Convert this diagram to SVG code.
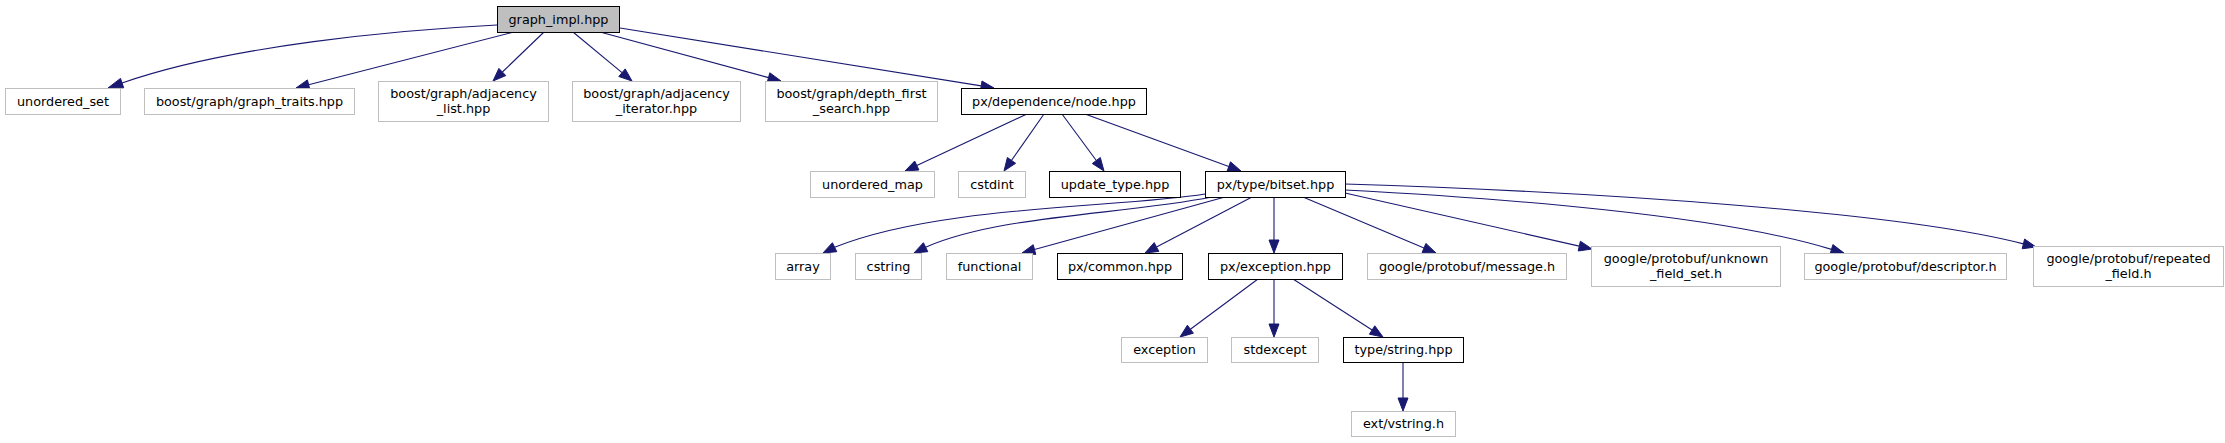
<svg xmlns="http://www.w3.org/2000/svg" width="2225" height="443" viewBox="0 0 2225 443">
<style>
.n rect{fill:#ffffff;stroke:#000000;stroke-width:1}
.g rect{fill:#ffffff;stroke:#bfbfbf;stroke-width:1}
.r rect{fill:#bfbfbf;stroke:#000000;stroke-width:1}
text{font-family:"DejaVu Sans","Liberation Sans",sans-serif;font-size:12.8px;fill:#000000;text-anchor:middle}
.e path{fill:none;stroke:#191970;stroke-width:1.1}
.e polygon{fill:#191970;stroke:#191970;stroke-width:1}
</style>
<rect x="0" y="0" width="2225" height="443" fill="#ffffff"/>
<g id="edges" class="e">
<path d="M497,25 C400,30 230,45 122,83"/><polygon points="120.5,78.4 108,88 123.7,87.8"/>
<path d="M514,32 L308.6,84.8"/><polygon points="307.4,79.9 296,88 309.9,89.6"/>
<path d="M544,32 L502.4,72"/><polygon points="498.9,68.4 493,81 505.8,75.6"/>
<path d="M573,32 L622,72.7"/><polygon points="618.8,76.5 632,81 625.2,68.9"/>
<path d="M600,32 L768.5,77.6"/><polygon points="767.2,82.4 781,81 769.8,72.8"/>
<path d="M620,28 L981.2,85.9"/><polygon points="980.4,90.9 994,88 982,81"/>
<path d="M1027,114 L916.8,165.5"/><polygon points="914.7,161 905,171 918.9,170"/>
<path d="M1044,114 L1011.5,160.4"/><polygon points="1007.4,157.5 1004,171 1015.6,163.3"/>
<path d="M1062,114 L1096.3,160.5"/><polygon points="1092.3,163.5 1104,171 1100.3,157.5"/>
<path d="M1085,114 L1228.8,166.5"/><polygon points="1227.1,171.2 1241,171 1230.5,161.8"/>
<path d="M1205,194 C1120,208 940,205 834.6,247.2"/><polygon points="832.4,242.7 823,253 836.8,251.7"/>
<path d="M1212,197 C1120,215 1000,215 925.6,247.2"/><polygon points="923.4,242.7 914,253 927.8,251.7"/>
<path d="M1225,197 L1034.5,249.5"/><polygon points="1033.2,244.7 1022,253 1035.8,254.4"/>
<path d="M1252,197 L1156.5,247"/><polygon points="1154.2,242.6 1145,253 1158.8,251.4"/>
<path d="M1274,197 L1274,240"/><polygon points="1269,240 1274,253 1279,240"/>
<path d="M1303,197 L1424,248"/><polygon points="1422.1,252.6 1436,253 1425.9,243.4"/>
<path d="M1345,193 L1579.3,246.1"/><polygon points="1578.2,251 1592,249 1580.4,241.2"/>
<path d="M1345,190 C1500,198 1720,215 1831.5,249.4"/><polygon points="1830.1,254.2 1844,253 1832.9,244.6"/>
<path d="M1345,184 C1600,192 1900,212 2023.4,243.9"/><polygon points="2022.2,248.75 2036,247 2024.6,239"/>
<path d="M1258,279 L1190.4,329.2"/><polygon points="1187.4,325.2 1180,337 1193.4,333.2"/>
<path d="M1274,279 L1274,324"/><polygon points="1269,324 1274,337 1279,324"/>
<path d="M1293,279 L1372.1,330"/><polygon points="1369.4,334.2 1383,337 1374.8,325.8"/>
<path d="M1403,362 L1403,398"/><polygon points="1398,398 1403,411 1408,398"/>
</g>
<g id="graph_impl" class="r"><rect x="497.5" y="6.5" width="122" height="26"/><text x="558.5" y="23.5">graph_impl.hpp</text></g>
<g id="unordered_set" class="g"><rect x="5.5" y="88.5" width="115" height="26"/><text x="63" y="105.5">unordered_set</text></g>
<g id="graph_traits" class="g"><rect x="144.5" y="88.5" width="210" height="26"/><text x="249.5" y="105.5">boost/graph/graph_traits.hpp</text></g>
<g id="adjacency_list" class="g"><rect x="378.5" y="81.5" width="170" height="40"/><text x="463.5" y="97.8">boost/graph/adjacency</text><text x="463.5" y="112.8">_list.hpp</text></g>
<g id="adjacency_iterator" class="g"><rect x="572.5" y="81.5" width="168" height="40"/><text x="656.5" y="97.8">boost/graph/adjacency</text><text x="656.5" y="112.8">_iterator.hpp</text></g>
<g id="depth_first_search" class="g"><rect x="765.5" y="81.5" width="172" height="40"/><text x="851.5" y="97.8">boost/graph/depth_first</text><text x="851.5" y="112.8">_search.hpp</text></g>
<g id="node_hpp" class="n"><rect x="961.5" y="88.5" width="185" height="26"/><text x="1054" y="105.5">px/dependence/node.hpp</text></g>
<g id="unordered_map" class="g"><rect x="810.5" y="171.5" width="124" height="26"/><text x="872.5" y="188.5">unordered_map</text></g>
<g id="cstdint" class="g"><rect x="958.5" y="171.5" width="67" height="26"/><text x="992" y="188.5">cstdint</text></g>
<g id="update_type" class="n"><rect x="1049.5" y="171.5" width="131" height="26"/><text x="1115" y="188.5">update_type.hpp</text></g>
<g id="bitset" class="n"><rect x="1205.5" y="171.5" width="140" height="26"/><text x="1275.5" y="188.5">px/type/bitset.hpp</text></g>
<g id="array" class="g"><rect x="775.5" y="253.5" width="55" height="26"/><text x="803" y="270.5">array</text></g>
<g id="cstring" class="g"><rect x="855.5" y="253.5" width="66" height="26"/><text x="888.5" y="270.5">cstring</text></g>
<g id="functional" class="g"><rect x="946.5" y="253.5" width="86" height="26"/><text x="989.5" y="270.5">functional</text></g>
<g id="common" class="n"><rect x="1057.5" y="253.5" width="125" height="26"/><text x="1120" y="270.5">px/common.hpp</text></g>
<g id="px_exception" class="n"><rect x="1208.5" y="253.5" width="134" height="26"/><text x="1275.5" y="270.5">px/exception.hpp</text></g>
<g id="message" class="g"><rect x="1367.5" y="253.5" width="199" height="26"/><text x="1467" y="270.5">google/protobuf/message.h</text></g>
<g id="unknown_field_set" class="g"><rect x="1591.5" y="246.5" width="189" height="40"/><text x="1686" y="262.8">google/protobuf/unknown</text><text x="1686" y="277.8">_field_set.h</text></g>
<g id="descriptor" class="g"><rect x="1804.5" y="253.5" width="202" height="26"/><text x="1905.5" y="270.5">google/protobuf/descriptor.h</text></g>
<g id="repeated_field" class="g"><rect x="2033.5" y="246.5" width="190" height="40"/><text x="2128.5" y="262.8">google/protobuf/repeated</text><text x="2128.5" y="277.8">_field.h</text></g>
<g id="exception" class="g"><rect x="1121.5" y="337.5" width="86" height="25"/><text x="1164.5" y="354">exception</text></g>
<g id="stdexcept" class="g"><rect x="1231.5" y="337.5" width="87" height="25"/><text x="1275" y="354">stdexcept</text></g>
<g id="type_string" class="n"><rect x="1343.5" y="337.5" width="120" height="25"/><text x="1403.5" y="354">type/string.hpp</text></g>
<g id="vstring" class="g"><rect x="1351.5" y="411.5" width="104" height="25"/><text x="1403.5" y="428">ext/vstring.h</text></g>
</svg>
